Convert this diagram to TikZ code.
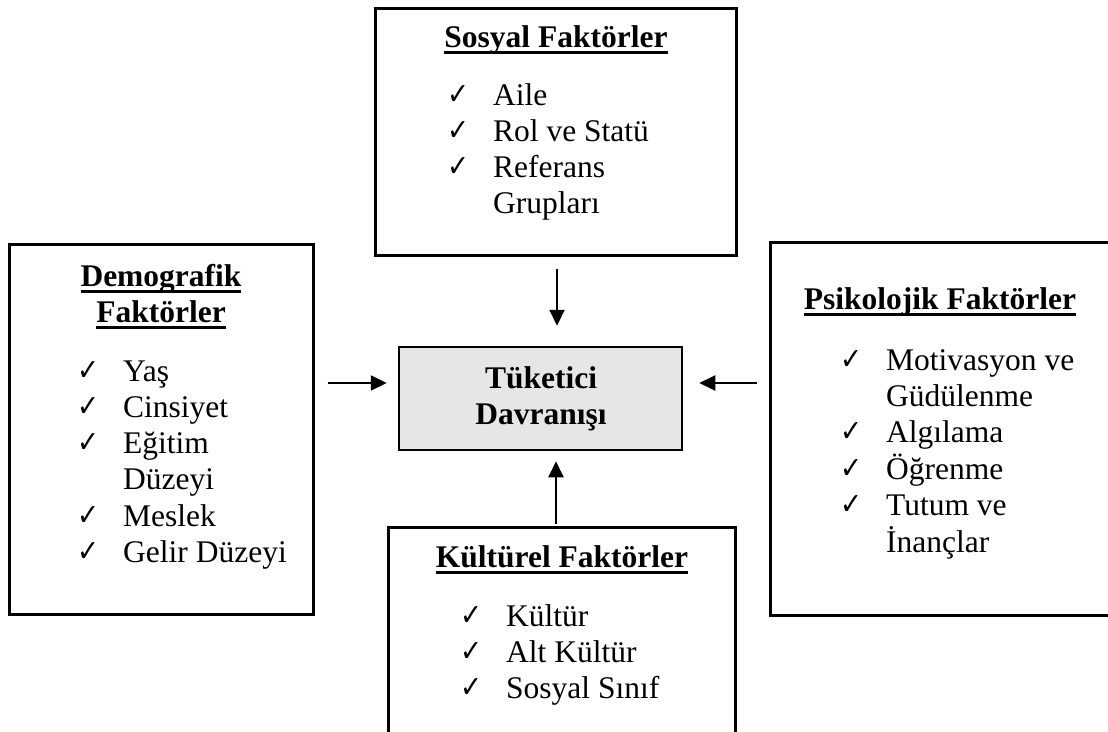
\documentclass[tikz,border=0pt]{standalone}
\usepackage{fontspec}
\usepackage{graphicx}
\setmainfont{Liberation Serif}
\newfontfamily\symfont{DejaVu Sans}
\usetikzlibrary{arrows.meta,fit}
\newsavebox\ulbox
\newcommand\myul[1]{\sbox\ulbox{#1}\rlap{\rule[-6.5pt]{\wd\ulbox}{2.6pt}}\usebox\ulbox}
\definecolor{boxgray}{HTML}{E6E6E6}
\newcommand\ck{\makebox[46pt][l]{\smash{\raisebox{1pt}{\resizebox{22pt}{19pt}{\symfont\bfseries ✓}}}}}
\tikzset{
  outerbox/.style={draw, line width=3pt, inner sep=0pt},
  cenbox/.style={draw, line width=2.5pt, fill=boxgray, inner sep=0pt},
  titletext/.style={inner sep=0pt, anchor=base, font=\fontsize{31.5}{36.3}\selectfont\bfseries},
  listtext/.style={inner sep=0pt, anchor=base west, font=\fontsize{31.5}{36.3}\selectfont},
  arr/.style={line width=2pt, -{Triangle[length=16pt,width=15pt]}},
}
\begin{document}
\begin{tikzpicture}[x=1pt,y=-1pt]
\useasboundingbox (0,0) rectangle (1108,731);
\clip (0,0) rectangle (1108,731);

% boxes
\node[outerbox, fit={(375,8) (736,255)}] (sos) {};
\node[outerbox, fit={(9,244) (313,614)}] (dem) {};
\node[outerbox, fit={(770,242) (1112,615)}] (psi) {};
\node[outerbox, fit={(388,527) (735,745)}] (kul) {};
\node[cenbox, fit={(399,347) (682,450)}] (cen) {};

% Sosyal
\node[titletext] (sosT) at (556,47) {\myul{Sosyal Faktörler}};
\node[listtext] (sosL) at (447,105) {\begin{tabular}[t]{@{}l@{}l@{}}
\ck & Aile\\ \ck & Rol ve Statü\\ \ck & Referans\\ & Grupları\end{tabular}};

% Demografik
\node[titletext] (demT) at (161,286) {\begin{tabular}[t]{@{}c@{}}\myul{Demografik}\\ \myul{Faktörler}\end{tabular}};
\node[listtext] (demL) at (77,381) {\begin{tabular}[t]{@{}l@{}l@{}}
\ck & Yaş\\ \ck & Cinsiyet\\ \ck & Eğitim\\ & Düzeyi\\ \ck & Meslek\\ \ck & Gelir Düzeyi\end{tabular}};

% Psikolojik
\node[titletext] (psiT) at (940,309) {\myul{Psikolojik Faktörler}};
\node[listtext] (psiL) at (840,370) {\begin{tabular}[t]{@{}l@{}l@{}}
\ck & Motivasyon ve\\ & Güdülenme\\ \ck & Algılama\\ \ck & Öğrenme\\ \ck & Tutum ve\\ & İnançlar\end{tabular}};

% Kulturel
\node[titletext] (kulT) at (562,567) {\myul{Kültürel Faktörler}};
\node[listtext] (kulL) at (460,626) {\begin{tabular}[t]{@{}l@{}l@{}}
\ck & Kültür\\ \ck & Alt Kültür\\ \ck & Sosyal Sınıf\end{tabular}};

% center
\node[titletext] (cenT) at (541,388) {\begin{tabular}[t]{@{}c@{}}Tüketici\\ Davranışı\end{tabular}};

% arrows
\coordinate (ax) at (557,0);
\coordinate (bx) at (556,0);
\coordinate (ay) at (0,383);
\draw[arr, shorten <=12pt, shorten >=20pt] (sos.south -| ax) -- (cen.north -| ax);
\draw[arr, shorten <=13pt, shorten >=11pt] (dem.east |- ay) -- (cen.west |- ay);
\draw[arr, shorten <=12pt, shorten >=16pt] (psi.west |- ay) -- (cen.east |- ay);
\draw[arr, shorten <=1.5pt, shorten >=10pt] (kul.north -| bx) -- (cen.south -| bx);
\end{tikzpicture}
\end{document}
